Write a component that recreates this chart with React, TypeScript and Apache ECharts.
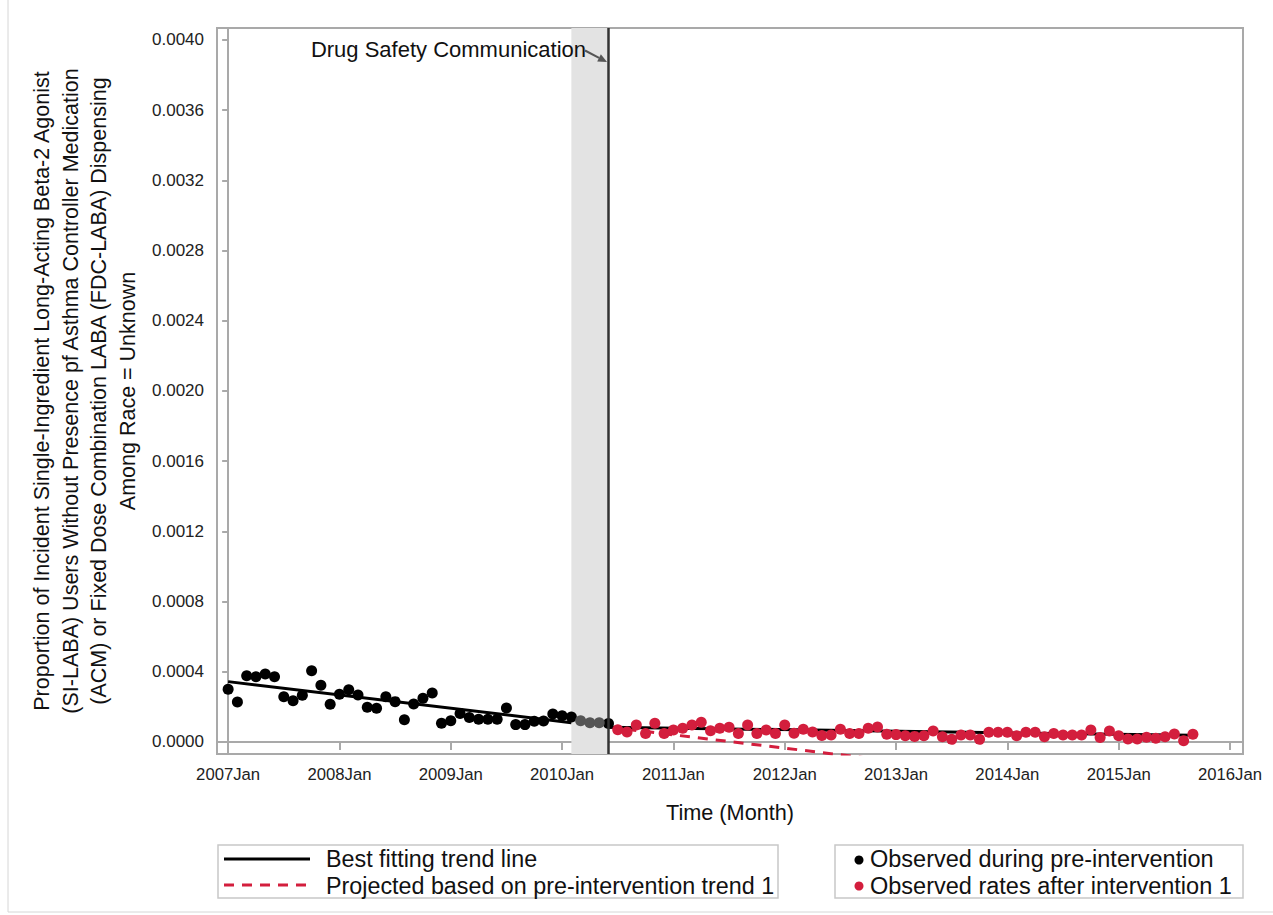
import React, { useEffect, useRef } from "react";
import * as echarts from "echarts";

// Month index: 0 = 2007Jan
const firstYear = 2007;
const xTickMonths = [0, 12, 24, 36, 48, 60, 72, 84, 96, 108];
const yTicks = [0, 0.0004, 0.0008, 0.0012, 0.0016, 0.002, 0.0024, 0.0028, 0.0032, 0.0036, 0.004];

// Observed during pre-intervention (months 0..37)
const preStart = 0;
const preValues = [
  0.0003, 0.000228, 0.000378, 0.000372, 0.000387, 0.000372, 0.000258, 0.000235, 0.000266, 0.000406,
  0.000323, 0.000215, 0.000272, 0.000298, 0.000268, 0.000198, 0.000192, 0.000258, 0.00023, 0.000127,
  0.000216, 0.000249, 0.000279, 0.000107, 0.000121, 0.000163, 0.000139, 0.000129, 0.000129, 0.000129,
  0.000194, 0.000099, 0.000099, 0.000118, 0.00012, 0.000159, 0.000149, 0.000142,
];
// Washout (shaded) months 38..40
const washoutStart = 38;
const washoutValues = [0.000121, 0.00011, 0.00011];
// Intervention month (2010Jun)
const interventionMonth = 41;
const interventionValue = 0.000105;
// Observed rates after intervention (months 42..104)
const postStart = 42;
const postValues = [
  0.00007, 0.000057, 0.000097, 0.000049, 0.000107, 0.000049, 0.000068, 0.000078, 0.000097, 0.000112,
  0.000064, 0.000078, 0.000084, 0.000049, 0.000097, 0.000049, 0.000068, 0.000049, 0.000097, 0.00005,
  0.000073, 0.000057, 0.000037, 0.00004, 0.000072, 0.000049, 0.000049, 0.000078, 0.000085, 0.000044,
  0.000042, 0.000036, 0.000032, 0.000036, 0.000063, 0.00003, 0.000015, 0.00004, 0.00004, 0.000015,
  0.000055, 0.000055, 0.000055, 0.000036, 0.000055, 0.000055, 0.00003, 0.000049, 0.00004, 0.00004,
  0.00004, 0.000068, 0.000025, 0.000063, 0.000036, 0.000017, 0.000017, 0.000027, 0.000021, 0.00003,
  0.000046, 0.000007, 0.000044,
];
// Trend lines
const preTrend = [[0, 0.000344], [37, 0.00011]];
const postTrend = [[41, 0.000084], [104, 0.000038]];
const projectedTrend = [[41, 0.000085], [104, -0.000313]];
// Shaded period and event line
const bandStart = 37;
const bandEnd = 41;

const FONT = "'Liberation Sans', Arial, sans-serif";
const RED = "#d31e3d";
const GRID_GREY = "#a9a9a9";

const yTitle = [
  "Proportion of Incident Single-Ingredient Long-Acting Beta-2 Agonist",
  "(SI-LABA) Users Without Presence pf Asthma Controller Medication",
  "(ACM) or Fixed Dose Combination LABA (FDC-LABA) Dispensing",
  "Among Race = Unknown",
].join("\n");

export default function App() {
  const ref = useRef<HTMLDivElement>(null);
  useEffect(() => {
    if (!ref.current) return;
    const chart = echarts.init(ref.current, null, { renderer: "svg" });
    const preData = preValues.map((v, i) => [preStart + i, v]);
    preData.push([interventionMonth, interventionValue]);
    const washData = washoutValues.map((v, i) => [washoutStart + i, v]);
    const postData = postValues.map((v, i) => [postStart + i, v]);

    // arrow geometry for annotation
    const tip = [607, 62];
    const tail = [585, 50.5];
    const dx = tip[0] - tail[0];
    const dy = tip[1] - tail[1];
    const len = Math.sqrt(dx * dx + dy * dy);
    const ux = dx / len, uy = dy / len;
    const px = -uy, py = ux;
    const hl = 9, hw = 4;
    const bx = tip[0] - hl * ux, by = tip[1] - hl * uy;

    chart.setOption({
      animation: false,
      backgroundColor: "#ffffff",
      grid: {
        left: 217,
        right: 30,
        top: 28,
        bottom: 161,
        show: true,
        borderColor: GRID_GREY,
        borderWidth: 2,
        backgroundColor: "transparent",
        outerBoundsMode: "none",
      },
      xAxis: {
        type: "value",
        min: -1.2,
        max: 109.4,
        axisLine: { show: true, lineStyle: { color: GRID_GREY, width: 2 } },
        axisTick: { show: true, customValues: xTickMonths, length: 8, lineStyle: { color: GRID_GREY, width: 2 } },
        axisLabel: {
          customValues: xTickMonths,
          formatter: (v: number) => `${firstYear + Math.round(v / 12)}Jan`,
          color: "#222",
          fontFamily: FONT,
          fontSize: 16.7,
          margin: 12,
        },
        splitLine: { show: false },
      },
      yAxis: {
        type: "value",
        min: -0.0000684,
        max: 0.004068,
        axisLine: { show: true, lineStyle: { color: GRID_GREY, width: 2 } },
        axisTick: { show: true, customValues: yTicks, length: 6, lineStyle: { color: GRID_GREY, width: 2 } },
        axisLabel: {
          customValues: yTicks,
          formatter: (v: number) => v.toFixed(4),
          color: "#222",
          fontFamily: FONT,
          fontSize: 17,
          margin: 13,
        },
        splitLine: { show: false },
      },
      series: [
        {
          type: "line",
          name: "Projected based on pre-intervention trend 1",
          data: projectedTrend,
          showSymbol: false,
          symbol: "none",
          clip: true,
          z: 2,
          lineStyle: { color: RED, width: 3, type: [10, 8] },
          markArea: {
            silent: true,
            itemStyle: { color: "#e3e3e3" },
            data: [[{ xAxis: bandStart }, { xAxis: bandEnd }]],
          },
        },
        {
          type: "line",
          name: "Best fitting trend line (pre)",
          data: preTrend,
          symbol: "none",
          z: 3,
          lineStyle: { color: "#000", width: 3 },
        },
        {
          type: "line",
          name: "Best fitting trend line (post)",
          data: postTrend,
          symbol: "none",
          z: 3,
          lineStyle: { color: "#000", width: 3 },
          markLine: {
            silent: true,
            symbol: "none",
            label: { show: false },
            lineStyle: { color: "#333", width: 2.5, type: "solid" },
            data: [{ xAxis: interventionMonth }],
          },
        },
        {
          type: "scatter",
          name: "Observed during pre-intervention",
          data: preData,
          symbolSize: 11,
          z: 4,
          itemStyle: { color: "#000", opacity: 1 },
        },
        {
          type: "scatter",
          name: "Washout",
          data: washData,
          symbolSize: 11,
          z: 4,
          itemStyle: { color: "#555", opacity: 1 },
        },
        {
          type: "scatter",
          name: "Observed rates after intervention 1",
          data: postData,
          symbolSize: 11,
          z: 4,
          itemStyle: { color: RED, opacity: 1 },
        },
      ],
      graphic: [
        {
          type: "rect",
          silent: true,
          shape: { x: 8, y: -10, width: 1300, height: 922 },
          style: { fill: "none", stroke: "#d6d6d6", lineWidth: 1 },
        },
        {
          type: "text",
          x: 85,
          y: 391,
          rotation: Math.PI / 2,
          style: {
            text: yTitle,
            font: `21.5px ${FONT}`,
            fill: "#111",
            align: "center",
            verticalAlign: "middle",
            textAlign: "center",
            textVerticalAlign: "middle",
            lineHeight: 28.4,
          },
        },
        {
          type: "text",
          x: 730,
          y: 812,
          style: {
            text: "Time (Month)",
            font: `21.7px ${FONT}`,
            fill: "#111",
            align: "center",
            verticalAlign: "middle",
            textAlign: "center",
            textVerticalAlign: "middle",
          },
        },
        {
          type: "text",
          x: 586,
          y: 49,
          z: 10,
          style: {
            text: "Drug Safety Communication",
            font: `22px ${FONT}`,
            fill: "#111",
            align: "right",
            verticalAlign: "middle",
            textAlign: "right",
            textVerticalAlign: "middle",
          },
        },
        {
          type: "line",
          z: 10,
          shape: { x1: tail[0], y1: tail[1], x2: bx, y2: by },
          style: { stroke: "#555", lineWidth: 2 },
        },
        {
          type: "polygon",
          z: 10,
          shape: {
            points: [
              [tip[0], tip[1]],
              [bx + hw * px, by + hw * py],
              [bx - hw * px, by - hw * py],
            ],
          },
          style: { fill: "#555" },
        },
        // Legend box 1
        {
          type: "rect",
          shape: { x: 218, y: 845, width: 560, height: 53 },
          style: { fill: "#fff", stroke: "#c8c8c8", lineWidth: 1.5 },
        },
        {
          type: "line",
          shape: { x1: 224, y1: 859, x2: 310, y2: 859 },
          style: { stroke: "#000", lineWidth: 3 },
        },
        {
          type: "text",
          x: 326,
          y: 859,
          style: {
            text: "Best fitting trend line",
            font: `23.3px ${FONT}`,
            fill: "#111",
            verticalAlign: "middle",
            textVerticalAlign: "middle",
          },
        },
        {
          type: "line",
          shape: { x1: 224, y1: 885, x2: 312, y2: 885 },
          style: { stroke: RED, lineWidth: 3, lineDash: [10, 8] },
        },
        {
          type: "text",
          x: 326,
          y: 886,
          style: {
            text: "Projected based on pre-intervention trend 1",
            font: `23.3px ${FONT}`,
            fill: "#111",
            verticalAlign: "middle",
            textVerticalAlign: "middle",
          },
        },
        // Legend box 2
        {
          type: "rect",
          shape: { x: 835, y: 845, width: 408, height: 53 },
          style: { fill: "#fff", stroke: "#c8c8c8", lineWidth: 1.5 },
        },
        {
          type: "circle",
          shape: { cx: 859, cy: 860, r: 4.5 },
          style: { fill: "#000" },
        },
        {
          type: "text",
          x: 870,
          y: 859,
          style: {
            text: "Observed during pre-intervention",
            font: `23.5px ${FONT}`,
            fill: "#111",
            verticalAlign: "middle",
            textVerticalAlign: "middle",
          },
        },
        {
          type: "circle",
          shape: { cx: 859, cy: 886, r: 4.5 },
          style: { fill: RED },
        },
        {
          type: "text",
          x: 870,
          y: 886,
          style: {
            text: "Observed rates after intervention 1",
            font: `23.5px ${FONT}`,
            fill: "#111",
            verticalAlign: "middle",
            textVerticalAlign: "middle",
          },
        },
      ],
    });
    return () => chart.dispose();
  }, []);
  return (
    <div
      ref={ref}
      style={{ position: "fixed", left: 0, top: 0, width: 1273, height: 915, background: "#fff" }}
    />
  );
}
